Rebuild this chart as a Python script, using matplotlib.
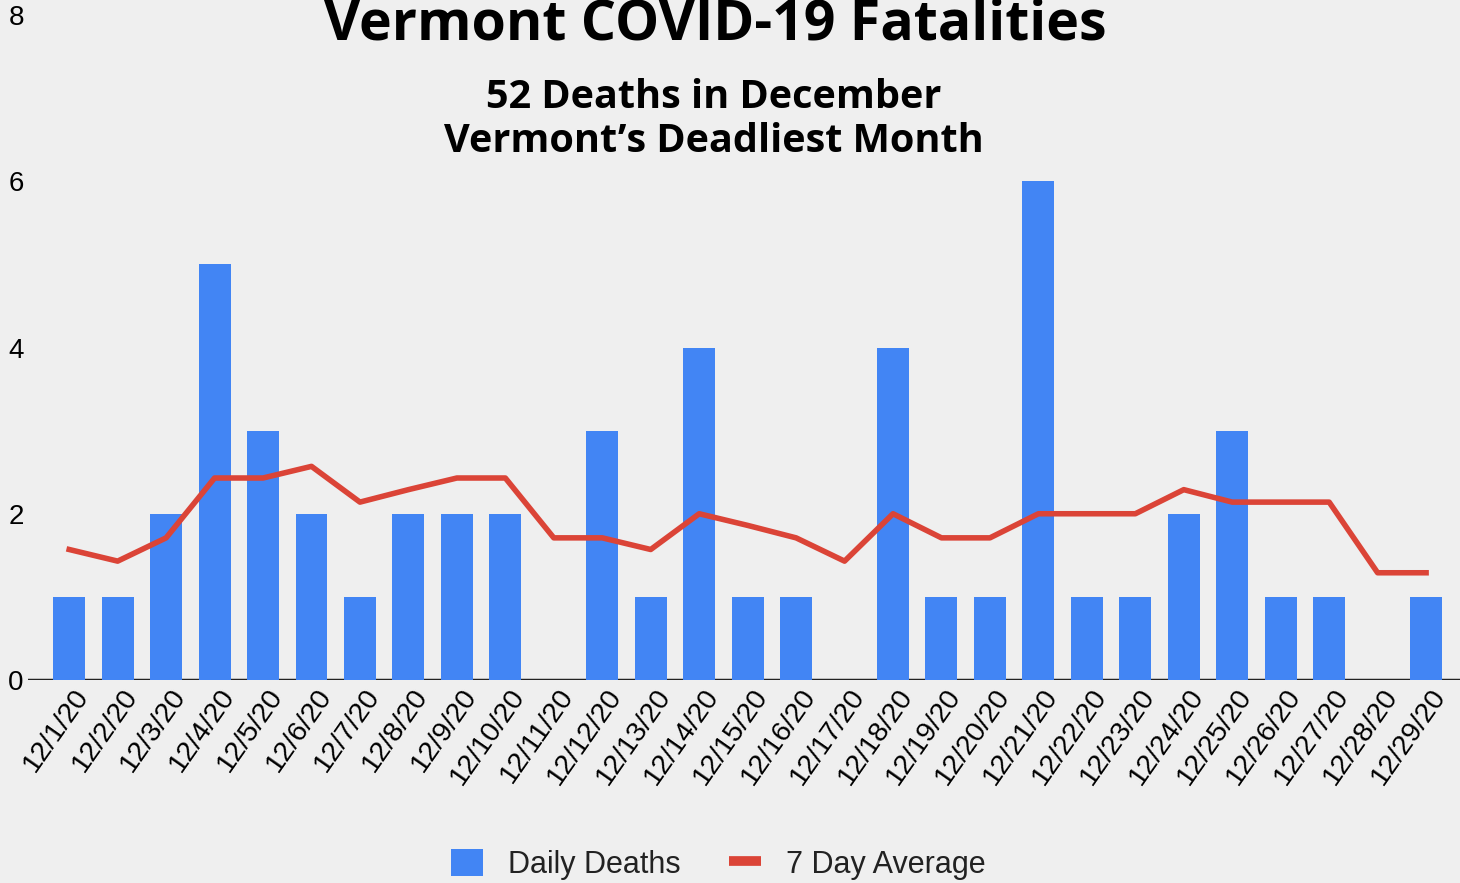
import matplotlib.pyplot as plt
from matplotlib.lines import Line2D
from matplotlib.patches import Patch
import numpy as np

# December 2020 Vermont daily deaths and 7 day rolling average
dates = ['12/%d/20' % d for d in range(1, 30)]
daily_deaths = [1, 1, 2, 5, 3, 2, 1, 2, 2, 2, 0, 3, 1, 4, 1, 1, 0, 4, 1, 1, 6, 1, 1, 2, 3, 1, 1, 0, 1]
avg_7day = [1.57, 1.43, 1.71, 2.43, 2.43, 2.57, 2.14, 2.29, 2.43, 2.43,
            1.71, 1.71, 1.57, 2.0, 1.86, 1.71, 1.43, 2.0, 1.71, 1.71,
            2.0, 2.0, 2.0, 2.29, 2.14, 2.14, 2.14, 1.29, 1.29]
yticks = [0, 2, 4, 6, 8]

bg = '#efefef'
blue = '#4285f4'
red = '#db4437'

fig = plt.figure(figsize=(14.6, 8.83), dpi=100, facecolor=bg)
ax = fig.add_axes([28 / 1460, 203 / 883, 1432 / 1460, 665 / 883], facecolor=bg)

x = np.arange(len(dates))
ax.bar(x, daily_deaths, width=0.66, color=blue, zorder=2)
ax.plot(x, avg_7day, color=red, lw=4, zorder=3)

ax.set_xlim(-0.85, 28.7)
ax.set_ylim(0, 8)
ax.axhline(0, color='#222222', lw=2.5, zorder=1)

for s in ax.spines.values():
    s.set_visible(False)

ax.set_yticks(yticks)
ax.set_yticklabels([str(t) for t in yticks], family='Liberation Sans', fontsize=20)
ax.tick_params(axis='y', length=0, pad=3)

ax.set_xticks(x + 0.3)
ax.set_xticklabels(dates, rotation=55, ha='right', va='center', rotation_mode='anchor',
                   family='Liberation Sans', fontsize=20.5)
ax.tick_params(axis='x', length=0, pad=8)

fig.text(0.49, (883 - 40) / 883, 'Vermont COVID-19 Fatalities', ha='center', va='baseline',
         family='Open Sans', weight='bold', fontsize=40)
fig.text(0.489, (883 - 108) / 883, '52 Deaths in December', ha='center', va='baseline',
         family='Open Sans', weight='bold', fontsize=28.5)
fig.text(0.489, (883 - 152) / 883, 'Vermont\u2019s Deadliest Month', ha='center', va='baseline',
         family='Open Sans', weight='bold', fontsize=28.5)

handles = [Patch(facecolor=blue, label='Daily Deaths'),
           Line2D([], [], color=red, lw=7, solid_capstyle='butt', label='7 Day Average')]
leg = fig.legend(handles=handles, loc='center', bbox_to_anchor=(0.492, 0.021), ncol=2, frameon=False,
                 prop={'family': 'Liberation Sans', 'size': 22}, handlelength=1.05,
                 handleheight=1.0, columnspacing=1.6, handletextpad=0.8)
for t in leg.get_texts():
    t.set_color('#222222')

fig.savefig('out.png', dpi=100, facecolor=bg)
